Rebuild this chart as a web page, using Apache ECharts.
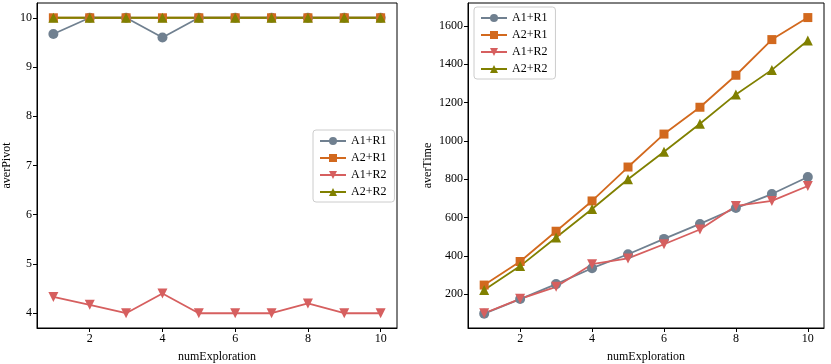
<!DOCTYPE html>
<html>
<head>
<meta charset="utf-8">
<script src="https://cdn.jsdelivr.net/npm/echarts@6/dist/echarts.min.js"></script>
<style>
  html, body { margin: 0; padding: 0; background: #fff; }
  #chart { width: 831px; height: 364px; }
</style>
</head>
<body>
<div id="chart"></div>
<script>
var numExploration = [1, 2, 3, 4, 5, 6, 7, 8, 9, 10];
var seriesNames = ['A1+R1', 'A2+R1', 'A1+R2', 'A2+R2'];

var pivotA1R1 = [9.67, 10, 10, 9.6, 10, 10, 10, 10, 10, 10];
var pivotA2R1 = [10, 10, 10, 10, 10, 10, 10, 10, 10, 10];
var pivotA1R2 = [4.33, 4.17, 4.0, 4.4, 4.0, 4.0, 4.0, 4.2, 4.0, 4.0];
var pivotA2R2 = [10, 10, 10, 10, 10, 10, 10, 10, 10, 10];

var timeA1R1 = [98, 174, 252, 335, 408, 488, 566, 649, 722, 811];
var timeA2R1 = [247, 370, 528, 686, 863, 1035, 1175, 1342, 1528, 1643];
var timeA1R2 = [100, 175, 238, 356, 386, 460, 537, 660, 686, 764];
var timeA2R2 = [221, 346, 495, 644, 799, 943, 1089, 1242, 1370, 1523];

var xTicks = [2, 4, 6, 8, 10];
var pivotTicks = [4, 5, 6, 7, 8, 9, 10];
var timeTicks = [200, 400, 600, 800, 1000, 1200, 1400, 1600];

var colors = ['#708090', '#d2691e', '#d65f5f', '#808000'];
var symbols = ['circle', 'rect', 'path://M0,0 L10,0 L5,9 Z', 'triangle'];
var font = 'Liberation Serif';

function pairs(ys) {
	return ys.map(function(y, i){ return [numExploration[i], y]; });
}

function plain(v) { return String(v); }

function makeX(idx) {
	return {
		type: 'value', gridIndex: idx, min: 0.55, max: 10.45,
		name: 'numExploration', nameLocation: 'middle', nameGap: 23,
		nameTextStyle: { fontFamily: font, fontSize: 12, color: '#000' },
		axisLine: { show: true, lineStyle: { color: '#000', width: 1 } },
		axisTick: { show: true, length: 4, customValues: xTicks, lineStyle: { color: '#000' } },
		axisLabel: { customValues: xTicks, formatter: plain, fontFamily: font, fontSize: 12, color: '#000', margin: 5 },
		splitLine: { show: false }
	};
}

function makeY(idx, name, min, max, ticks, gap) {
	return {
		type: 'value', gridIndex: idx, min: min, max: max,
		name: name, nameLocation: 'middle', nameGap: gap,
		nameTextStyle: { fontFamily: font, fontSize: 12, color: '#000' },
		axisLine: { show: true, lineStyle: { color: '#000', width: 1 } },
		axisTick: { show: true, length: 4, customValues: ticks, lineStyle: { color: '#000' } },
		axisLabel: { customValues: ticks, formatter: plain, fontFamily: font, fontSize: 12, color: '#000', margin: 5 },
		splitLine: { show: false }
	};
}

function makeSeries(idx, lists) {
	return lists.map(function(ys, k){
		return {
			name: seriesNames[k], type: 'line',
			xAxisIndex: idx, yAxisIndex: idx,
			data: pairs(ys),
			symbol: symbols[k], symbolSize: k == 1 ? 9 : 10,
			showAllSymbol: true,
			lineStyle: { color: colors[k], width: 1.8 },
			itemStyle: { color: colors[k] },
			emphasis: { disabled: true },
			animation: false
		};
	});
}

function makeLegend(left, top) {
	return {
		left: left, top: top, orient: 'vertical',
		data: seriesNames,
		itemWidth: 26, itemHeight: 10, itemGap: 5,
		padding: [5, 8, 4, 6],
		borderColor: '#ccc', borderWidth: 1, borderRadius: 3,
		backgroundColor: '#fff',
		textStyle: { fontFamily: font, fontSize: 12, color: '#000' }
	};
}

var chart = echarts.init(document.getElementById('chart'));

var option = {
	animation: false,
	color: colors,
	grid: [
		{ left: 37, right: 434, top: 3, bottom: 36, outerBoundsMode: 'none', show: true, borderColor: '#000', borderWidth: 1 },
		{ left: 468, right: 7, top: 3, bottom: 36, outerBoundsMode: 'none', show: true, borderColor: '#000', borderWidth: 1 }
	],
	xAxis: [makeX(0), makeX(1)],
	yAxis: [
		makeY(0, 'averPivot', 3.7, 10.3, pivotTicks, 24),
		makeY(1, 'averTime', 23, 1719, timeTicks, 34)
	],
	legend: [makeLegend(313, 130), makeLegend(474, 7)],
	series: makeSeries(0, [pivotA1R1, pivotA2R1, pivotA1R2, pivotA2R2])
		.concat(makeSeries(1, [timeA1R1, timeA2R1, timeA1R2, timeA2R2]))
};
chart.setOption(option);
</script>
</body>
</html>
